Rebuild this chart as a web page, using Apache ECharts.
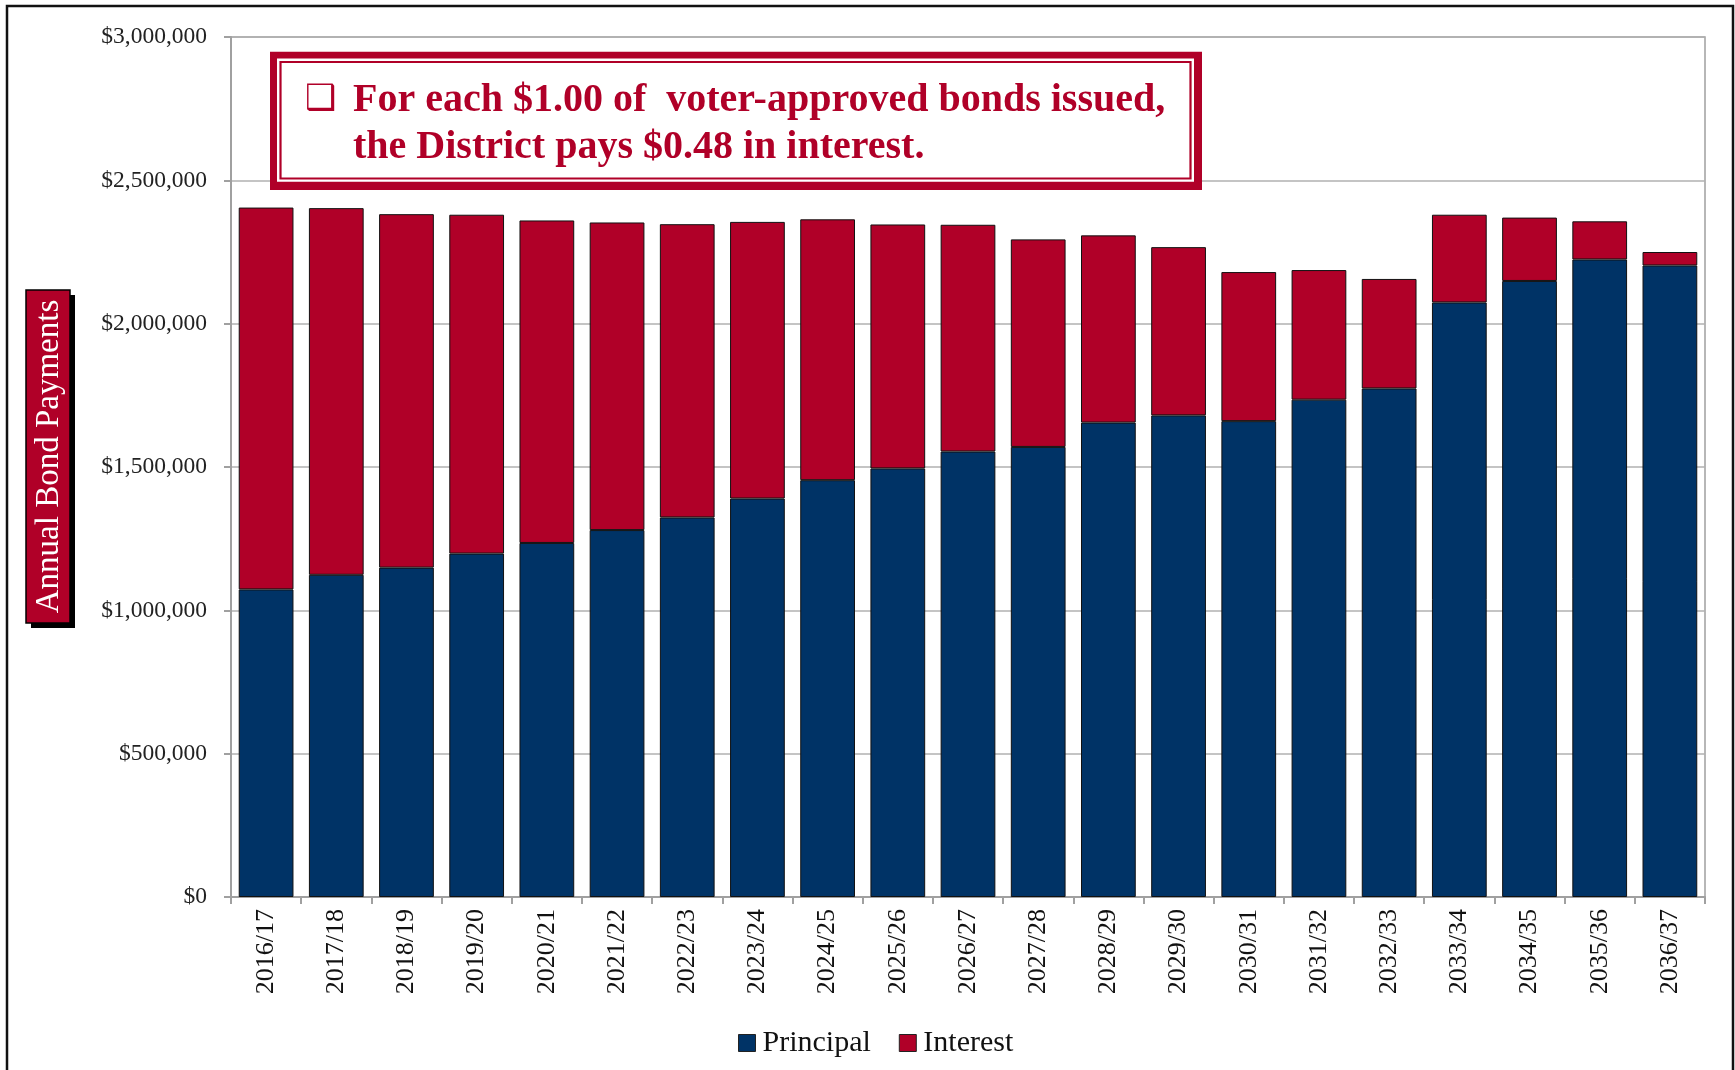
<!DOCTYPE html>
<html>
<head>
<meta charset="utf-8">
<script src="https://cdn.jsdelivr.net/npm/echarts@6/dist/echarts.min.js"></script>
<style>
html,body{margin:0;padding:0;background:#fff;}
#chart{width:1735px;height:1070px;}
</style>
</head>
<body>
<div id="chart"></div>
<script>
var categories = ['2016/17','2017/18','2018/19','2019/20','2020/21','2021/22','2022/23','2023/24','2024/25','2025/26','2026/27','2027/28','2028/29','2029/30','2030/31','2031/32','2032/33','2033/34','2034/35','2035/36','2036/37'];
var principal = [1073000,1124000,1149000,1198000,1235000,1280000,1324000,1390000,1454000,1495000,1554000,1570000,1655000,1680000,1660000,1735000,1774000,2074000,2149000,2224000,2203000];
var interest = [1332000,1279000,1233000,1182000,1125000,1073000,1023000,965000,910000,851000,791000,724000,653000,587000,520000,452000,382000,306000,221000,133000,47000];
var yTickLabels = ['$0','$500,000','$1,000,000','$1,500,000','$2,000,000','$2,500,000','$3,000,000'];
var seriesNames = ['Principal','Interest'];
var annotationLines = ['For each $1.00 of  voter-approved bonds issued,','the District pays $0.48 in interest.'];
var yAxisTitle = 'Annual Bond Payments';

var RED = '#B00028', NAVY = '#003366', SERIF = '"Liberation Serif","Times New Roman",serif';
var chart = echarts.init(document.getElementById('chart'), null, {renderer:'canvas'});
chart.setOption({
  backgroundColor:'#fff',
  animation:false,
  grid:{left:231, top:37, width:1474, height:860, show:true, borderColor:'#a0a0a0', borderWidth:1.5, backgroundColor:'#fff'},
  legend:{
    data:seriesNames, left:733, top:1023, icon:'rect', itemWidth:17, itemHeight:17, itemGap:28,
    textStyle:{fontFamily:SERIF, fontSize:30, color:'#111', padding:[0,0,0,2]},
    itemStyle:{borderColor:'#222', borderWidth:1}
  },
  xAxis:{
    type:'category', data:categories,
    axisLine:{lineStyle:{color:'#a0a0a0', width:2}},
    axisTick:{show:true, length:7, lineStyle:{color:'#a0a0a0', width:2}},
    axisLabel:{rotate:90, margin:12, fontFamily:SERIF, fontSize:26, color:'#111', interval:0}
  },
  yAxis:{
    type:'value', min:0, max:3000000, interval:500000,
    axisLine:{show:true, lineStyle:{color:'#a0a0a0', width:2}},
    axisTick:{show:true, length:7, lineStyle:{color:'#a0a0a0', width:2}},
    splitLine:{lineStyle:{color:'#b0b0b0', width:1.5}},
    axisLabel:{margin:24, fontFamily:SERIF, fontSize:23.5, color:'#222',
      formatter:function(v){return yTickLabels[Math.round(v/500000)];}}
  },
  series:[
    {name:seriesNames[0], type:'bar', stack:'t', data:principal, barCategoryGap:'22%',
      itemStyle:{color:NAVY, borderColor:'#111', borderWidth:1}},
    {name:seriesNames[1], type:'bar', stack:'t', data:interest, barCategoryGap:'22%',
      itemStyle:{color:RED, borderColor:'#111', borderWidth:1}}
  ],
  graphic:[
    {type:'rect', shape:{x:7, y:6, width:1726, height:1200}, style:{fill:'none', stroke:'#111', lineWidth:2.5}, z:100},
    {type:'rect', shape:{x:270, y:51.7, width:932, height:138.3}, style:{fill:RED}, z:100},
    {type:'rect', shape:{x:277, y:58.4, width:917, height:123.3}, style:{fill:'#fff'}, z:101},
    {type:'rect', shape:{x:280.5, y:62, width:910, height:116.5}, style:{fill:'#fff', stroke:RED, lineWidth:2.2}, z:102},
    {type:'text', x:305, y:100, style:{text:'\u2751', font:'35px "DejaVu Sans"', fill:RED, verticalAlign:'middle', align:'left'}, z:103},
    {type:'text', x:353, y:101, style:{text:annotationLines[0], font:'bold 40px '+SERIF, fill:RED, verticalAlign:'middle', align:'left'}, z:103},
    {type:'text', x:353, y:148, style:{text:annotationLines[1], font:'bold 40px '+SERIF, fill:RED, verticalAlign:'middle', align:'left'}, z:103},
    {type:'rect', shape:{x:31, y:295, width:44, height:333}, style:{fill:'#000'}, z:100},
    {type:'rect', shape:{x:26, y:290, width:44, height:333}, style:{fill:RED, stroke:'#000', lineWidth:1.5}, z:101},
    {type:'text', x:49, y:456.5, rotation:Math.PI/2, style:{text:yAxisTitle, font:'33px '+SERIF, fill:'#fff', verticalAlign:'middle', align:'center'}, z:102}
  ]
});
</script>
</body>
</html>
